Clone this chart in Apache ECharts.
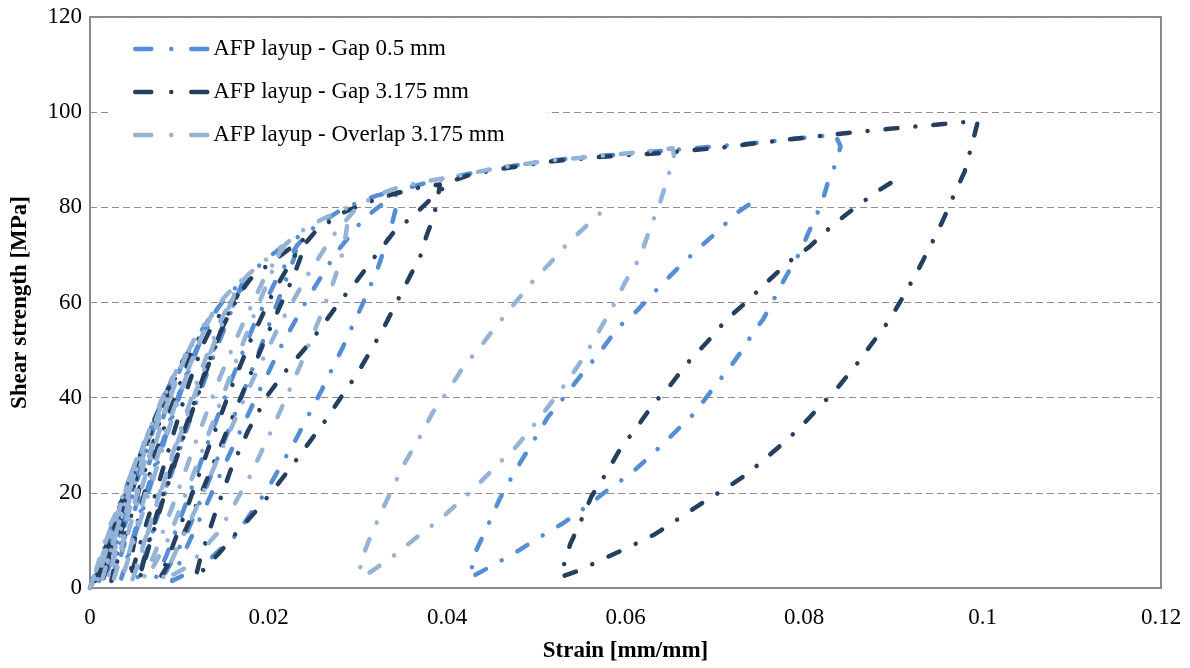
<!DOCTYPE html>
<html>
<head>
<meta charset="utf-8">
<script src="https://cdn.jsdelivr.net/npm/echarts@6/dist/echarts.min.js"></script>
<style>
html,body{margin:0;padding:0;background:#fff;}
#chart{width:1190px;height:668px;}
</style>
</head>
<body>
<div id="chart"></div>
<script>
// ---- Data: [strain (mm/mm), shear stress (MPa)] ----
const seriesNames = ['AFP layup - Gap 0.5 mm', 'AFP layup - Gap 3.175 mm', 'AFP layup - Overlap 3.175 mm'];
const seriesColors = ['#558ED5', '#243F60', '#95B3D7'];
const xTickLabels = ['0', '0.02', '0.04', '0.06', '0.08', '0.1', '0.12'];
const yTickLabels = ['0', '20', '40', '60', '80', '100', '120'];

const gap05 = [
 [0,0],[0.001,5.3],[0.002,10.5],[0.0027,14.2],
 [0.0019,9.5],[0.0011,4.5],[0.0005,1],
 [0.001,4.8],[0.0018,9.5],[0.0026,14],[0.0032,17],[0.004,21],[0.005,25.5],[0.0053,27],
 [0.0043,22],[0.0031,14.5],[0.0019,7],[0.001,1.5],
 [0.0017,5.5],[0.003,13.5],[0.0043,21],[0.0053,26.5],[0.0059,29.5],[0.007,34.5],[0.0077,37.5],
 [0.0066,33],[0.005,24],[0.0034,14],[0.0021,5],[0.0016,1.5],
 [0.0024,6],[0.004,15.5],[0.0056,25.5],[0.0071,34.5],[0.0082,40],[0.009,43],[0.01,46.5],[0.0103,47.5],
 [0.0092,44],[0.0074,35],[0.0055,24],[0.0038,12.5],[0.0028,4],[0.0025,1.5],
 [0.0034,6.5],[0.0052,17.5],[0.007,28.5],[0.0088,39.5],[0.0102,46.5],[0.0112,50.5],[0.012,52.8],[0.013,55.5],[0.0135,57],
 [0.0123,52],[0.0103,42.5],[0.0082,31],[0.0062,19.5],[0.0045,8.5],[0.0035,2],
 [0.0046,8.5],[0.0066,20.5],[0.0086,32.5],[0.0106,43.5],[0.0124,52],[0.0142,58.5],[0.015,60.5],[0.016,62.5],[0.0172,64.8],
 [0.016,59],[0.0139,49],[0.0116,37.5],[0.0093,25],[0.0072,13],[0.0056,3.5],[0.0052,1.5],
 [0.0064,8],[0.0085,21],[0.0108,34],[0.0131,46.5],[0.0152,56.5],[0.0172,63.5],[0.0185,67],[0.02,69.5],[0.022,72.3],[0.0235,74],
 [0.0228,69],[0.0208,59],[0.0184,47],[0.0158,34.5],[0.0132,22],[0.0106,10.5],[0.0084,3],[0.0072,1.5],
 [0.0085,6.5],[0.0108,18],[0.0133,31],[0.0158,43.5],[0.0183,55],[0.0208,64.5],[0.0232,72],[0.0252,76],[0.028,79.3],[0.03,81],[0.032,82.4],[0.0345,83.6],
 [0.0343,80],[0.0335,74],[0.0322,67],[0.0305,59.5],[0.0283,50.5],[0.0258,41],[0.023,31],[0.0198,20.5],[0.0163,11],[0.0125,4.5],[0.0092,1.5],
 [0.0102,6],[0.0128,16.5],[0.0156,28],[0.0186,40],[0.0216,51.5],[0.0246,61.5],[0.0276,70.5],[0.0306,77.5],[0.0335,81.8],[0.036,84.3],[0.038,85.3],[0.041,86.5],[0.045,88],[0.05,89.5],[0.055,90.5],[0.06,91.2],[0.065,92],[0.07,92.8],[0.075,93.6],[0.08,94.6],[0.0835,95.3],
 [0.0841,92.8],[0.0833,87.9],[0.0827,85.4],[0.0821,81.6],[0.0812,77.4],[0.0805,74.7],[0.0796,70.7],[0.0784,66.9],[0.0776,64.2],[0.0765,60.2],[0.0754,56.4],[0.0743,53.7],[0.0732,50.3],[0.0717,46.4],[0.0708,44.3],[0.0694,40.9],[0.0676,36.5],[0.0652,32.1],[0.063,28.1],[0.0605,23.9],[0.058,20.6],[0.0557,17.2],[0.053,13.6],[0.0504,10.7],[0.0478,7.6],[0.045,4.6],[0.0425,2.1],
 [0.0432,7.6],[0.0446,13.2],[0.0459,18.7],[0.0476,24.5],[0.0496,30.6],[0.0513,35.9],[0.0532,40.3],[0.0551,44.9],[0.0571,49.5],[0.0592,54.8],[0.0613,58.3],[0.0633,62.3],[0.0657,66.9],[0.0678,70.7],[0.0703,74.9],[0.0725,78.9],[0.0753,82.4]
];

const gap3175 = [
 [0,0],[0.001,5.2],[0.0022,11.5],
 [0.0015,7],[0.0008,2.5],[0.0004,0.8],
 [0.0009,3.5],[0.0017,8],[0.0025,12.5],[0.003,15.5],[0.004,20.5],[0.0044,22.5],
 [0.0035,17.5],[0.0023,10],[0.0013,3.5],[0.0009,1],
 [0.0016,5],[0.0028,12],[0.004,19.5],[0.005,25],[0.006,29.5],[0.0066,32.3],
 [0.0056,27.5],[0.0042,19],[0.0027,9.5],[0.0015,2],[0.0011,0.8],
 [0.0022,6.5],[0.0037,15.5],[0.0052,24.5],[0.0066,32],[0.0074,36],[0.008,38.5],[0.009,42.5],[0.0092,43.2],
 [0.0082,40],[0.0066,31.5],[0.0049,21.5],[0.0034,11],[0.0026,3.5],[0.0024,1.5],
 [0.0032,6.5],[0.0049,17],[0.0066,27.5],[0.0082,37.5],[0.0095,44],[0.0102,47],[0.011,49.5],[0.012,52],[0.0122,52.5],
 [0.0111,48],[0.0092,38.5],[0.0072,27.5],[0.0056,16.5],[0.0048,8],[0.0045,2],
 [0.0055,8.5],[0.0073,19.5],[0.0092,31.5],[0.011,42.5],[0.0126,51],[0.0138,55.5],[0.015,58.5],[0.016,60.5],[0.0165,61.5],
 [0.0153,57],[0.0133,47.5],[0.0111,36],[0.0089,24],[0.0069,12],[0.0058,4],[0.0055,1.5],
 [0.0065,8],[0.0085,20.5],[0.0107,33],[0.0129,45],[0.0149,55],[0.0168,62],[0.018,65],[0.02,68],[0.022,70.8],[0.0238,73.4],
 [0.024,71.5],[0.0227,65],[0.0216,60.5],[0.0198,53],[0.018,45],[0.016,36],[0.0138,26],[0.0115,15.5],[0.0093,6.5],[0.0078,2],
 [0.0088,6.5],[0.011,17.5],[0.0133,29.5],[0.0157,41.5],[0.0181,52.5],[0.0205,62],[0.0228,69.5],[0.0252,74.8],[0.028,78.6],[0.031,81],[0.034,82.8],[0.037,84.2],[0.0392,84.8],
 [0.0389,81],[0.0384,77.5],[0.0377,74],[0.037,69.7],[0.0359,65.7],[0.0344,60.2],[0.033,55],[0.0314,49.7],[0.0299,44.9],[0.0282,40.3],[0.0263,35],[0.0244,30.2],[0.0226,25.6],[0.0207,21],[0.0187,16.4],[0.0166,12],[0.0146,7.6],[0.0128,4],[0.0118,2],
 [0.0124,6.5],[0.0139,15],[0.0157,24.5],[0.0177,33],[0.0199,40.5],[0.0221,46],[0.0243,50.8],[0.0263,55.8],[0.028,60.2],[0.0299,64.6],[0.0319,69.6],[0.034,74.7],[0.0362,78.2],[0.0385,82.3],[0.0405,85.5],[0.0425,86.8],[0.0457,88],[0.0518,89.7],[0.0579,90.7],[0.0641,91.4],[0.0714,92.7],[0.0743,93.4],[0.0799,94.6],[0.0863,95.9],[0.0896,96.5],[0.0926,97],[0.0956,97.5],[0.0995,98.2],
 [0.0989,93.8],[0.098,87.5],[0.0968,82.6],[0.0956,77.4],[0.0942,72],[0.0928,66.9],[0.0912,61.5],[0.0896,56.4],[0.0877,51.6],[0.0859,47],[0.0839,42.4],[0.0818,38.2],[0.0796,33.8],[0.0779,30.8],[0.0761,27.9],[0.0736,23.9],[0.0711,20.8],[0.0687,18],[0.0659,14.5],[0.0633,11.3],[0.0604,8.6],[0.0575,6.1],[0.0547,3.6],[0.0527,2.3],
 [0.0532,5.5],[0.0538,9.2],[0.0548,13.2],[0.0562,19.3],[0.0577,23.7],[0.0594,29.2],[0.0612,33.6],[0.0631,38.6],[0.0651,42.8],[0.067,47.4],[0.0692,51.8],[0.0713,56.4],[0.0736,60.2],[0.0758,64.2],[0.0782,68.4],[0.0806,71.7],[0.0833,76.4],[0.0857,79.9],[0.0883,83.5],[0.0903,85.8]
];

const overlap3175 = [
 [0,0],[0.001,5.5],[0.002,11],[0.0025,13.5],
 [0.0017,8.5],[0.0009,3.8],[0.0003,1],
 [0.0008,4.5],[0.0016,9.5],[0.0024,13.8],[0.003,16],[0.004,21],[0.0047,24.5],
 [0.0038,19.5],[0.0026,12.5],[0.0016,6.5],[0.0008,1.5],
 [0.0014,5.5],[0.0025,12],[0.0036,18.5],[0.0046,24],[0.0052,27],[0.006,30.5],[0.0067,33.6],
 [0.0057,28],[0.0043,20],[0.0028,11],[0.0014,2],
 [0.0022,7],[0.0037,16],[0.0052,25],[0.0065,32.5],[0.0072,35.5],[0.008,39.5],[0.0088,42.5],
 [0.0078,37.5],[0.0062,29],[0.0045,19],[0.0029,9],[0.002,2],
 [0.0029,7.5],[0.0046,17.5],[0.0063,27.5],[0.0078,36],[0.0088,41.5],[0.0094,44.5],[0.01,47],[0.0112,50.6],
 [0.0101,46],[0.0083,37],[0.0064,26.5],[0.0045,15],[0.003,5],[0.0026,1.5],
 [0.0036,7.5],[0.0053,18],[0.0071,29],[0.0089,39.5],[0.0104,47.5],[0.0116,52],[0.0123,54],[0.013,56],[0.0138,58],
 [0.0126,53.5],[0.0106,44],[0.0085,33],[0.0064,21],[0.0046,9],[0.0036,2],
 [0.0047,8.5],[0.0066,20],[0.0086,32],[0.0106,43.5],[0.0124,52.5],[0.014,58.5],[0.015,61],[0.016,63],[0.017,64.8],
 [0.0158,60],[0.0138,51],[0.0116,40],[0.0093,28],[0.0071,15.5],[0.0054,5],[0.0047,1.5],
 [0.0058,8],[0.0079,20.5],[0.0101,33],[0.0124,45.5],[0.0146,56],[0.0166,63.5],[0.0178,66],[0.0194,68.5],[0.0215,71.8],
 [0.0205,67],[0.0183,57],[0.016,46],[0.0135,33.5],[0.011,21],[0.0087,10],[0.0068,3.5],[0.006,2],
 [0.0072,7],[0.0095,18.5],[0.012,31.5],[0.0145,44],[0.017,55],[0.0195,65],[0.0218,72],[0.0232,74.5],[0.026,77.5],[0.0287,79.8],
 [0.0288,76],[0.0284,71],[0.0274,65],[0.0258,57],[0.0235,46.5],[0.0208,35],[0.0178,23],[0.0145,12],[0.011,4.5],[0.008,1.5],
 [0.0092,6],[0.0122,18],[0.0152,31],[0.0183,44],[0.0213,55.5],[0.0243,65.5],[0.0272,74],[0.03,80.2],[0.0322,82.6],[0.0347,84.3],[0.038,85.6],[0.0415,86.7],[0.0457,88.3],[0.0518,89.9],[0.0579,90.9],[0.0625,91.8],[0.0653,92.4],
 [0.0655,90],[0.065,87.9],[0.0639,81.2],[0.0627,75.3],[0.0616,69.4],[0.06,64.4],[0.0586,59.2],[0.057,53.9],[0.0554,48.7],[0.0537,44],[0.0517,39],[0.0499,34.6],[0.0477,29.6],[0.0456,25.8],[0.0433,21.4],[0.0411,17.6],[0.0392,14.4],[0.0365,10.5],[0.0335,6],[0.0306,2.3],
 [0.0302,5],[0.0314,10.7],[0.0327,16.2],[0.034,21.4],[0.0353,26.4],[0.037,31.9],[0.0384,36.9],[0.0403,42],[0.0418,46.4],[0.0435,50.1],[0.0454,54.8],[0.0474,59.4],[0.0496,64.4],[0.0515,68.2],[0.0536,72.6],[0.0559,76.6],[0.0576,79.5]
];

const seriesData = [gap05, gap3175, overlap3175];

// ---- Chart ----
const chart = echarts.init(document.getElementById('chart'), null, {renderer: 'canvas'});
const serif = '"Liberation Serif", "Times New Roman", serif';

const option = {
  animation: false,
  backgroundColor: '#ffffff',
  textStyle: {fontFamily: serif, color: '#000'},
  grid: {
    left: 90, right: 29, top: 17, bottom: 79,
    show: true, borderColor: '#8a8a8a', borderWidth: 2, backgroundColor: 'transparent'
  },
  legend: {
    orient: 'vertical',
    left: 110, top: 27,
    padding: [10, 43, 10, 23],
    backgroundColor: '#ffffff',
    itemWidth: 76, itemHeight: 16, itemGap: 19,
    itemStyle: {opacity: 0},
    lineStyle: {width: 4.5, type: [16, 20, 0.01, 20], cap: 'round', join: 'round'},
    textStyle: {fontFamily: serif, fontSize: 23, color: '#000', lineHeight: 24, padding: [0, 0, 0, -3]},
    data: seriesNames
  },
  xAxis: {
    type: 'value', min: 0, max: 0.12, interval: 0.02,
    name: 'Strain [mm/mm]', nameLocation: 'middle', nameGap: 52,
    nameTextStyle: {fontFamily: serif, fontSize: 23, fontWeight: 'bold', color: '#000'},
    axisLine: {show: false}, axisTick: {show: false},
    axisLabel: {fontFamily: serif, fontSize: 23, color: '#000', margin: 18,
      formatter: function (v) { return xTickLabels[Math.round(v / 0.02)]; }},
    splitLine: {show: false}
  },
  yAxis: {
    type: 'value', min: 0, max: 120, interval: 20,
    name: 'Shear strength [MPa]', nameLocation: 'middle', nameGap: 58,
    nameTextStyle: {fontFamily: serif, fontSize: 23, fontWeight: 'bold', color: '#000'},
    axisLine: {show: false}, axisTick: {show: false},
    axisLabel: {fontFamily: serif, fontSize: 23, color: '#000', margin: 8,
      formatter: function (v) { return yTickLabels[Math.round(v / 20)]; }},
    splitLine: {show: true, lineStyle: {color: '#8f8f8f', width: 1, type: [7, 4]}}
  },
  series: seriesData.map(function (d, i) {
    return {
      name: seriesNames[i],
      type: 'line',
      data: d,
      symbol: 'none',
      showSymbol: false,
      smooth: false,
      clip: true,
      z: 2 + i,
      color: seriesColors[i],
      lineStyle: {color: seriesColors[i], width: 4.5, type: [12, 18, 0.01, 18], cap: 'round', join: 'round'}
    };
  })
};
chart.setOption(option);
</script>
</body>
</html>
